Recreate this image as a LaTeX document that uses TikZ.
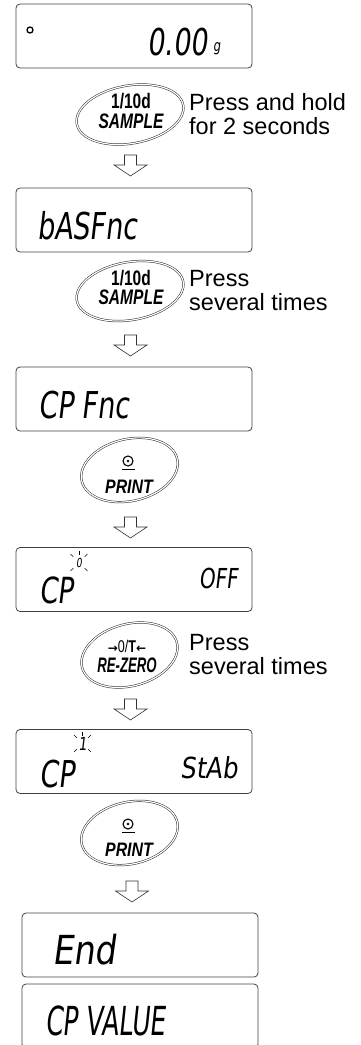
\documentclass[tikz,border=0pt]{standalone}
\usepackage{fontspec}
\setmainfont{Liberation Sans}
\newfontfamily\keyfont[FakeStretch=0.74]{Liberation Sans}
\newfontfamily\symfont{DejaVu Sans}
\newfontfamily\lcdfont[FakeSlant=0.12,FakeStretch=0.73]{DejaVu Sans}
\usepackage{tikz}

% hollow down arrow, #1 = top centre coordinate
\newcommand\hollowarrow[1]{%
  \draw[hollow] ([xshift=-6pt]#1) -- ++(0,10) -- ++(-10.5,0) -- ++(16.5,11)
    -- ++(16.5,-11) -- ++(-10.5,0) -- ++(0,-10) -- cycle;}
% printer sign above the PRINT key text
\newcommand\printsign[1]{%
  \draw[line width=1.1pt] (#1) circle[radius=5];
  \fill (#1) circle[radius=1.3];
  \draw[line width=1.1pt] ([xshift=-6.5pt,yshift=-8.5pt]#1) -- ++(13,0);}
% flashing marks round a digit
\newcommand\blinkmarks[1]{%
  \foreach \a in {-45,-90,-135,135,45}
    \draw[line width=0.5pt] ([shift={(\a:8)}]#1) -- ([shift={(\a:12)}]#1);}

\begin{document}
\begin{tikzpicture}[
  x=1pt, y=-1pt,
  every node/.style={inner sep=0pt},
  lcd/.style={draw=black!75, line width=0.8pt, rounded corners=4pt,
              minimum width=236pt, minimum height=64pt},
  keyring/.style={draw=black!85, double, double distance=1.2pt, line width=0.5pt},
  keytext/.style={font=\keyfont\fontsize{21}{19.5}\selectfont, align=center},
  note/.style={font=\fontsize{23.5}{24}\selectfont, align=left, anchor=west},
  seg/.style={font=\lcdfont\fontsize{37}{37}\selectfont},
  hollow/.style={draw=black!80, line width=0.6pt, fill=white}
]
\clip (0,0) rectangle (361,1045);

% displays
\node[lcd] (weigh) at (134,36) {};
\node[lcd] (basfnc) at (134,220) {};
\node[lcd] (cpfnc) at (134,399) {};
\node[lcd] (cpoff) at (134,579.5) {};
\node[lcd] (cpstab) at (134,761.5) {};
\node[lcd] (ending) at (140,945) {};
\node[lcd] (cpvalue) at (140,1016) {};

% display contents
\node[circle, draw, line width=1.3pt, minimum size=6pt] (stable) at (30,30) {};
\node[seg, anchor=base east] (zero) at (208,55) {0.00};
\node[seg, anchor=base west, font=\lcdfont\fontsize{16}{16}\selectfont] (gram) at (213,51) {g};
\node[seg, anchor=base west] (basfnctext) at (37,239) {bASFnc};
\node[seg, anchor=base west] (cpfnctext) at (38,418) {CP Fnc};
\node[seg, anchor=base west, font=\lcdfont\fontsize{36}{36}\selectfont] (cpa) at (39,603) {CP};
\node[seg, font=\lcdfont\fontsize{12.5}{12.5}\selectfont] (digzero) at (79,562.5) {0};
\node[seg, anchor=base east, font=\lcdfont\fontsize{27.5}{28}\selectfont] (off) at (238,588) {OFF};
\node[seg, anchor=base west] (cpb) at (39,787) {CP};
\node[seg, font=\lcdfont\fontsize{18}{18}\selectfont] (digone) at (82.5,743.5) {1};
\node[seg, anchor=base east, xscale=1.15, font=\lcdfont\fontsize{29}{29}\selectfont] (stab) at (238,778) {StAb};
\node[seg, anchor=base west, xscale=1.15, font=\lcdfont\fontsize{40}{40}\selectfont] (endtext) at (52,964) {End};
\node[seg, anchor=base west, xscale=0.86, font=\lcdfont\fontsize{40}{40}\selectfont] (cpvaluetext) at (45,1035) {CP VALUE};
\blinkmarks{digzero.center}
\blinkmarks{digone.center}

% keys
\coordinate (sample1c) at (130,114.5);
\node[keytext] (sample1) at (131,111) {\bfseries 1/10d\\\bfseries\itshape SAMPLE};
\draw[keyring, rotate around={10:(sample1c)}] (sample1c) ellipse [x radius=54, y radius=29];
\coordinate (sample2c) at (130,291);
\node[keytext] (sample2) at (131,287.5) {\bfseries 1/10d\\\bfseries\itshape SAMPLE};
\draw[keyring, rotate around={10:(sample2c)}] (sample2c) ellipse [x radius=54, y radius=29];
\coordinate (print1c) at (129.5,470);
\coordinate (print1s) at (128,461);
\node[keytext, xscale=1.1, font=\keyfont\fontsize{19.5}{18}\selectfont] (print1) at (129,486.5) {\bfseries\itshape PRINT};
\draw[keyring, rotate around={13:(print1c)}] (print1c) ellipse [x radius=49, y radius=31];
\printsign{print1s}
\coordinate (rezeroc) at (129.5,655);
\node[keytext, font=\keyfont\fontsize{21}{20}\selectfont] (rezero) at (127,656)
  {\fontsize{17}{17}\selectfont{\symfont\bfseries\fontsize{12}{12}\selectfont\char"2192}0/{\bfseries T}{\symfont\bfseries\fontsize{12}{12}\selectfont\char"2190}\\\scalebox{0.85}[1]{\bfseries\itshape RE-ZERO}};
\draw[keyring, rotate around={15:(rezeroc)}] (rezeroc) ellipse [x radius=49, y radius=31];
\coordinate (print2c) at (129.5,833);
\coordinate (print2s) at (128,824);
\node[keytext, xscale=1.1, font=\keyfont\fontsize{19.5}{18}\selectfont] (print2) at (129,849.5) {\bfseries\itshape PRINT};
\draw[keyring, rotate around={13:(print2c)}] (print2c) ellipse [x radius=49, y radius=31];
\printsign{print2s}

% notes
\node[note] (hold) at (189,114) {Press and hold\\for 2 seconds};
\node[note] (times1) at (189,291) {Press\\several times};
\node[note] (times2) at (189,655) {Press\\several times};

% arrows
\coordinate (a1) at (130.5,155);
\coordinate (a2) at (130.5,335);
\coordinate (a3) at (130.5,517);
\coordinate (a4) at (130.5,699);
\coordinate (a5) at (132,881);
\foreach \c in {a1,a2,a3,a4,a5} {\hollowarrow{\c}}
\end{tikzpicture}
\end{document}
